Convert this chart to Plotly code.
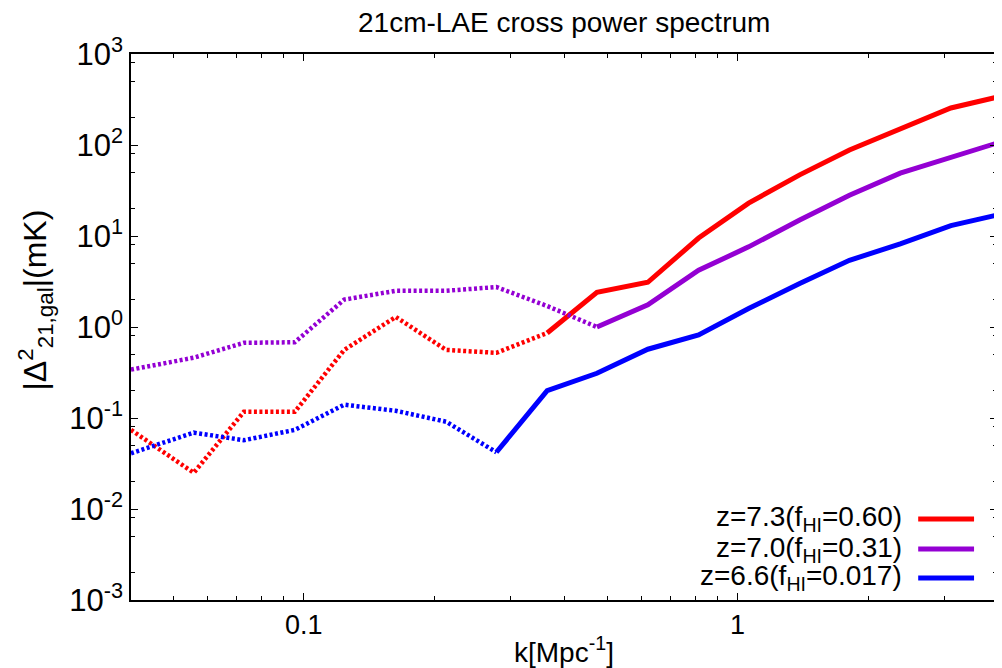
import plotly.graph_objects as go
import numpy as np

# ---------------- data ----------------
k_values = [0.04, 0.0558, 0.0728, 0.0954, 0.124, 0.163, 0.213, 0.278, 0.364,
            0.474, 0.621, 0.813, 1.06, 1.39, 1.81, 2.37, 3.1, 3.96]

z73_values = [0.074, 0.025, 0.117, 0.117, 0.56, 1.29, 0.56, 0.52, 0.86,
              2.4, 3.1, 9.5, 23, 47, 88, 150, 255, 335]
z70_values = [0.34, 0.46, 0.67, 0.68, 2.0, 2.5, 2.5, 2.75, 1.7,
              1.0, 1.75, 4.2, 7.6, 15, 28, 49, 74, 105]
z66_values = [0.041, 0.069, 0.057, 0.074, 0.14, 0.12, 0.091, 0.042, 0.20,
              0.31, 0.57, 0.82, 1.6, 3.0, 5.4, 8.2, 13, 17]

# index where the curve switches from dotted (negative) to solid (positive)
z73_switch = 8
z70_switch = 9
z66_switch = 7

series_names = ["z=7.3(f<sub>HI</sub>=0.60)",
                "z=7.0(f<sub>HI</sub>=0.31)",
                "z=6.6(f<sub>HI</sub>=0.017)"]

y_tick_vals = [1e-3, 1e-2, 1e-1, 1, 10, 100, 1000]
y_tick_text = ["10<sup>-3</sup>", "10<sup>-2</sup>", "10<sup>-1</sup>",
               "10<sup>0</sup>", "10<sup>1</sup>", "10<sup>2</sup>", "10<sup>3</sup>"]
x_tick_vals = [0.1, 1]
x_tick_text = ["0.1", "1"]

# ---------------- styling ----------------
colors = ["#FF0000", "#9400D3", "#0000FF"]
FONT = "Liberation Sans, Arial, Helvetica, sans-serif"

fig = go.Figure()

all_series = [(z73_values, z73_switch), (z70_values, z70_switch), (z66_values, z66_switch)]
for (vals, sw), col, name in zip(all_series, colors, series_names):
    fig.add_trace(go.Scatter(x=k_values[:sw + 1], y=vals[:sw + 1], mode="lines",
                             line=dict(color=col, width=4.5, dash="3px,2.5px"),
                             showlegend=False, hoverinfo="skip"))
    fig.add_trace(go.Scatter(x=k_values[sw:], y=vals[sw:], mode="lines",
                             line=dict(color=col, width=5),
                             name=name, showlegend=False))

x_minor = [m * 10.0 ** e for e in (-2, -1, 0) for m in range(2, 10)]
y_minor = [m * 10.0 ** e for e in range(-3, 3) for m in (2, 5, 8)]

axis_common = dict(showline=True, linecolor="black", linewidth=1.5, mirror="ticks",
                   ticks="inside", ticklen=7, tickwidth=1, tickcolor="black",
                   showgrid=False, zeroline=False)

fig.update_xaxes(type="log", range=[np.log10(0.04), np.log10(3.96)],
                 tickmode="array", tickvals=x_tick_vals, ticktext=x_tick_text,
                 tickfont=dict(family=FONT, size=27, color="black"),
                 minor=dict(tickmode="array", tickvals=x_minor, ticks="inside",
                            ticklen=4, tickcolor="black", tickwidth=1),
                 **axis_common)
fig.update_yaxes(type="log", range=[-3, 3],
                 tickmode="array", tickvals=y_tick_vals, ticktext=y_tick_text,
                 tickfont=dict(family=FONT, size=31, color="black"),
                 minor=dict(tickmode="array", tickvals=y_minor, ticks="inside",
                            ticklen=4, tickcolor="black", tickwidth=1),
                 **axis_common)

annotations = [
    dict(text="21cm-LAE cross power spectrum", x=0.5, y=1.0586, xref="paper", yref="paper",
         xanchor="center", yanchor="middle", showarrow=False,
         font=dict(family=FONT, size=28, color="black")),
    dict(text="k[Mpc<sup>-1</sup>]", x=0.5, y=-0.092, xref="paper", yref="paper",
         xanchor="center", yanchor="middle", showarrow=False,
         font=dict(family=FONT, size=28, color="black")),
    dict(text="|Δ<sup>2</sup><sub>21,gal</sub>|(mK)", x=-0.1106, y=0.549, xref="paper", yref="paper",
         xanchor="center", yanchor="middle", textangle=-90, showarrow=False,
         font=dict(family=FONT, size=32, color="black")),
]
legend_y = [0.1484, 0.0934, 0.0403]
shapes = []
for name, col, ly in zip(series_names, colors, legend_y):
    annotations.append(dict(text=name, x=0.8929, y=ly, xref="paper", yref="paper",
                            xanchor="right", yanchor="middle", showarrow=False,
                            font=dict(family=FONT, size=28, color="black")))
    shapes.append(dict(type="line", xref="paper", yref="paper", x0=0.909, x1=0.9735,
                       y0=ly, y1=ly, line=dict(color=col, width=5)))

# page body has an 8px margin, so the figure is 8px smaller on each axis
fig.update_layout(width=994, height=660,
                  margin=dict(l=123, r=3, t=46, b=68),
                  paper_bgcolor="white", plot_bgcolor="white",
                  annotations=annotations, shapes=shapes, showlegend=False)

fig.write_html("out.html")
